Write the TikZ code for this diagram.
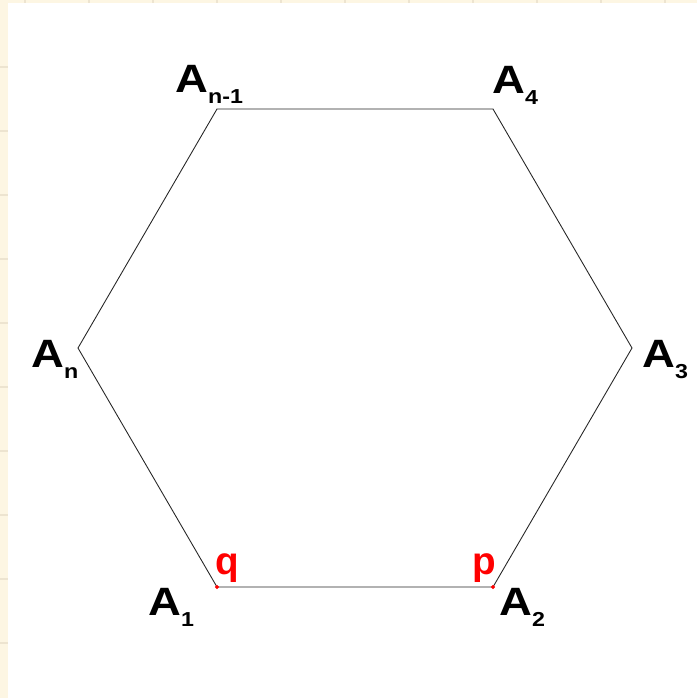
\documentclass[tikz,border=0pt]{standalone}
\usepackage{fontspec}
\setmainfont{Liberation Sans}
\newfontfamily\szeroki[FakeStretch=1.15]{Liberation Sans}
\usepackage{xcolor}
\definecolor{papier}{HTML}{FDF6E3}
\definecolor{kratka}{HTML}{EDE4D0}

% Etykieta wierzchołka: A z indeksem dolnym
\newcommand{\wierzch}[1]{\szeroki\bfseries\fontsize{22.5}{22.5}\selectfont A\raisebox{-6.5pt}{\fontsize{11.5}{11.5}\selectfont #1}}

\begin{document}
\begin{tikzpicture}[x=0.02cm, y=-0.02cm]
        \useasboundingbox (0,0) rectangle (697,698);
        % Tło (arkusz)
        \fill[papier] (0,0) rectangle (697,698);
        \fill[white] (8,3) rectangle (697,698);
        \foreach \k in {25,89,...,665} \draw[kratka, line width=0.6pt] (\k,0) -- (\k,3);
        \foreach \k in {67,131,...,643} \draw[kratka, line width=0.6pt] (0,\k) -- (8,\k);

        % Wierzchołki sześciokąta
        \coordinate (A1) at (217,587);
        \coordinate (A2) at (493,587);
        \coordinate (A3) at (632,348);
        \coordinate (A4) at (493,109);
        \coordinate (An1) at (217,109);
        \coordinate (An) at (78,348);

        % Wielokąt
        \draw[line width=0.5pt, black!85] (A1) -- (A2) -- (A3) -- (A4) -- (An1) -- (An) -- cycle;

        % Etykiety wierzchołków
        \node[inner sep=0pt, anchor=base west] (lA1) at (148,615) {\wierzch{1}};
        \node[inner sep=0pt, anchor=base west] (lA2) at (499,615) {\wierzch{2}};
        \node[inner sep=0pt, anchor=base west] (lA3) at (642,367) {\wierzch{3}};
        \node[inner sep=0pt, anchor=base west] (lA4) at (492,93) {\wierzch{4}};
        \node[inner sep=0pt, anchor=base west] (lAn1) at (175,92) {\wierzch{n-1}};
        \node[inner sep=0pt, anchor=base west] (lAn) at (31,367) {\wierzch{n}};

        % Punkty q i p
        \filldraw[red] (A1) circle (1.6);
        \filldraw[red] (A2) circle (1.6);
        \node[inner sep=0pt, anchor=base west, text=red, font=\bfseries\fontsize{22}{22}\selectfont] (q) at (215,574) {q};
        \node[inner sep=0pt, anchor=base west, text=red, font=\bfseries\fontsize{22}{22}\selectfont] (p) at (472,574) {p};
    \end{tikzpicture}
\end{document}
